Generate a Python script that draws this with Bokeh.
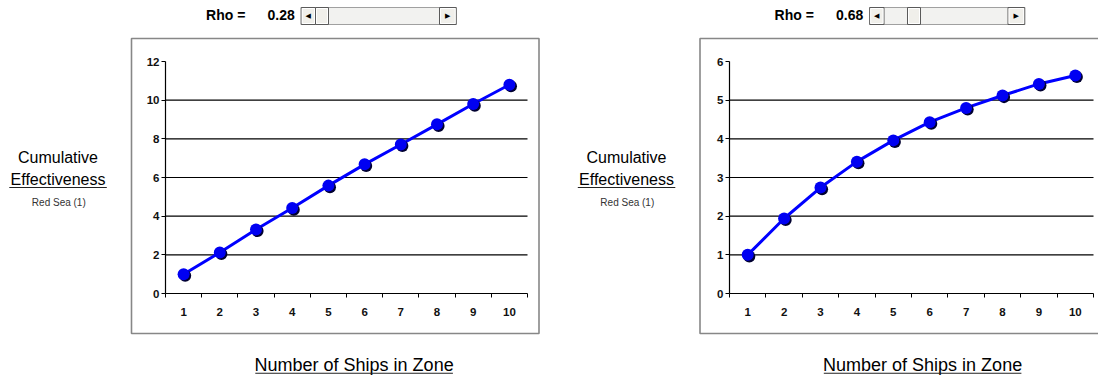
from bokeh.plotting import figure
from bokeh.models import Label, BoxAnnotation, FixedTicker, LinearAxis, Range1d, ColumnDataSource
from bokeh.layouts import row
from bokeh.embed import file_html
from bokeh.resources import INLINE
from bokeh.transform import dodge

# ---- data ----
ships = [1, 2, 3, 4, 5, 6, 7, 8, 9, 10]
eff_rho_028 = [1.00, 2.12, 3.31, 4.42, 5.58, 6.68, 7.71, 8.75, 9.80, 10.80]
eff_rho_068 = [1.00, 1.94, 2.74, 3.41, 3.96, 4.43, 4.80, 5.12, 5.42, 5.64]
rho_labels = ["0.28", "0.68"]
y_ticks_left = [0, 2, 4, 6, 8, 10, 12]
y_ticks_right = [0, 1, 2, 3, 4, 5, 6]
x_tick_labels = [str(s) for s in ships]

H = 377
FONT = "Liberation Sans"


def build(width, page_left, FL, FR, ymax, yticks, ys, rho_text, dx, thumb):
    FT, FB = 61, 293

    def X(px):
        return 0.5 + (px - FL) * 10.0 / (FR - FL)

    def Y(py):
        return (FB - py) * ymax / (FB - FT)

    def XD(px):  # decoration x, given in left-panel page coords
        return X(px + dx)

    p = figure(width=width, height=H,
               x_range=Range1d(X(page_left), X(page_left + width)),
               y_range=Range1d(Y(H), Y(0)),
               output_backend="svg", toolbar_location=None, title=None,
               x_axis_type=None, y_axis_type=None,
               min_border_left=0, min_border_right=0, min_border_top=0, min_border_bottom=0)
    p.background_fill_color = "white"
    p.border_fill_color = "white"
    p.outline_line_color = None

    x_lo = ships[0] - 0.5
    x_hi = ships[-1] + 0.5
    bounds = [s - 0.5 for s in ships] + [x_hi]

    # horizontal gridlines from the y tick list (not at the axis or the top tick)
    gy = yticks[1:-1]
    p.segment(x0=x_lo, x1=x_hi, y0=gy, y1=gy, line_color="black", line_width=1.2)

    xaxis = LinearAxis(ticker=FixedTicker(ticks=ships, minor_ticks=bounds),
                       major_label_overrides={s: l for s, l in zip(ships, x_tick_labels)},
                       fixed_location=0, bounds=(x_lo, x_hi))
    xaxis.axis_line_color = "black"
    xaxis.axis_line_width = 1.2
    xaxis.major_tick_out = 0
    xaxis.major_tick_in = 0
    xaxis.minor_tick_out = 4
    xaxis.minor_tick_in = 0
    xaxis.minor_tick_line_color = "black"
    xaxis.major_label_standoff = 10
    xaxis.major_label_text_font = FONT
    xaxis.major_label_text_font_style = "bold"
    xaxis.major_label_text_font_size = "11.5px"
    xaxis.major_label_text_color = "#111111"
    p.add_layout(xaxis, "below")

    yaxis = LinearAxis(ticker=FixedTicker(ticks=yticks), fixed_location=x_lo, bounds=(0, ymax))
    yaxis.axis_line_color = "black"
    yaxis.axis_line_width = 1.2
    yaxis.major_tick_out = 4
    yaxis.major_tick_in = 0
    yaxis.minor_tick_out = 0
    yaxis.minor_tick_in = 0
    yaxis.major_tick_line_color = "black"
    yaxis.major_label_standoff = 2
    yaxis.major_label_text_font = FONT
    yaxis.major_label_text_font_style = "bold"
    yaxis.major_label_text_font_size = "11.5px"
    yaxis.major_label_text_color = "#111111"
    p.add_layout(yaxis, "left")

    src = ColumnDataSource(dict(x=ships, y=ys))
    p.line("x", "y", source=src, line_color="#0000FF", line_width=3)
    sx = 1.6 * 10.0 / (FR - FL)
    sy = 1.6 * ymax / (FB - FT)
    p.scatter(x=dodge("x", sx), y=dodge("y", -sy), source=src, size=12,
              fill_color="#000030", line_color=None)
    p.scatter("x", "y", source=src, size=12, fill_color="#0000F2", line_color=None)

    def box(l, r, t, b, **kw):
        kw.setdefault("line_alpha", 1)
        p.add_layout(BoxAnnotation(left=XD(l), right=XD(r), top=Y(t), bottom=Y(b), **kw))

    def label(px, py, text, size, style="normal", color="black", align="center", font=FONT):
        p.add_layout(Label(x=XD(px), y=Y(py), text=text, text_font=font, text_font_size=size,
                           text_font_style=style, text_color=color, text_align=align,
                           text_baseline="middle"))

    # chart area border
    box(131, 538.5, 38, 333, fill_alpha=0, fill_color=None, line_color="#878787", line_width=1.6)

    # Rho control (scroll bar)
    label(205.6, 14.5, "Rho =", "14px", style="bold", align="left")
    label(267, 14.5, rho_text, "14px", style="bold", align="left")
    box(300.7, 455.7, 7, 24, fill_color="#f2f2f0", fill_alpha=1, line_color="#a0a0a0", line_width=1)
    for l, r in [(300.7, 315), (439, 455.7), thumb]:
        box(l, r, 7, 24, fill_color="#f0efea", fill_alpha=1, line_color="#5a5a5a", line_width=1)
        box(l + 1, r - 1, 8, 23, fill_alpha=0, fill_color=None, line_color="#ffffff", line_width=1)
    label(307.8, 15.5, "\u25C0", "7px", font="DejaVu Sans")
    label(447.3, 15.5, "\u25B6", "7px", font="DejaVu Sans")

    # left titles
    label(57.5, 156.7, "Cumulative", "16px")
    label(57.5, 179, "Effectiveness", "16px")
    box(8.8, 106.3, 186.5, 187.6, fill_color="#222222", fill_alpha=1, line_color=None)
    label(58.3, 202, "Red Sea (1)", "10px", color="#333333")

    # bottom title
    label(353.6, 364.5, "Number of Ships in Zone", "18px")
    box(254.8, 452.4, 372.2, 373.3, fill_color="#222222", fill_alpha=1, line_color=None)
    return p


p1 = build(569, 0, 165, 527, 12, y_ticks_left, eff_rho_028, rho_labels[0], 0, (315, 328))
p2 = build(529, 569, 729, 1093, 6, y_ticks_right, eff_rho_068, rho_labels[1], 568.5,
           (907 - 568.5, 920 - 568.5))

layout = row(p1, p2)
open("out.html", "w").write(file_html(layout, INLINE))
